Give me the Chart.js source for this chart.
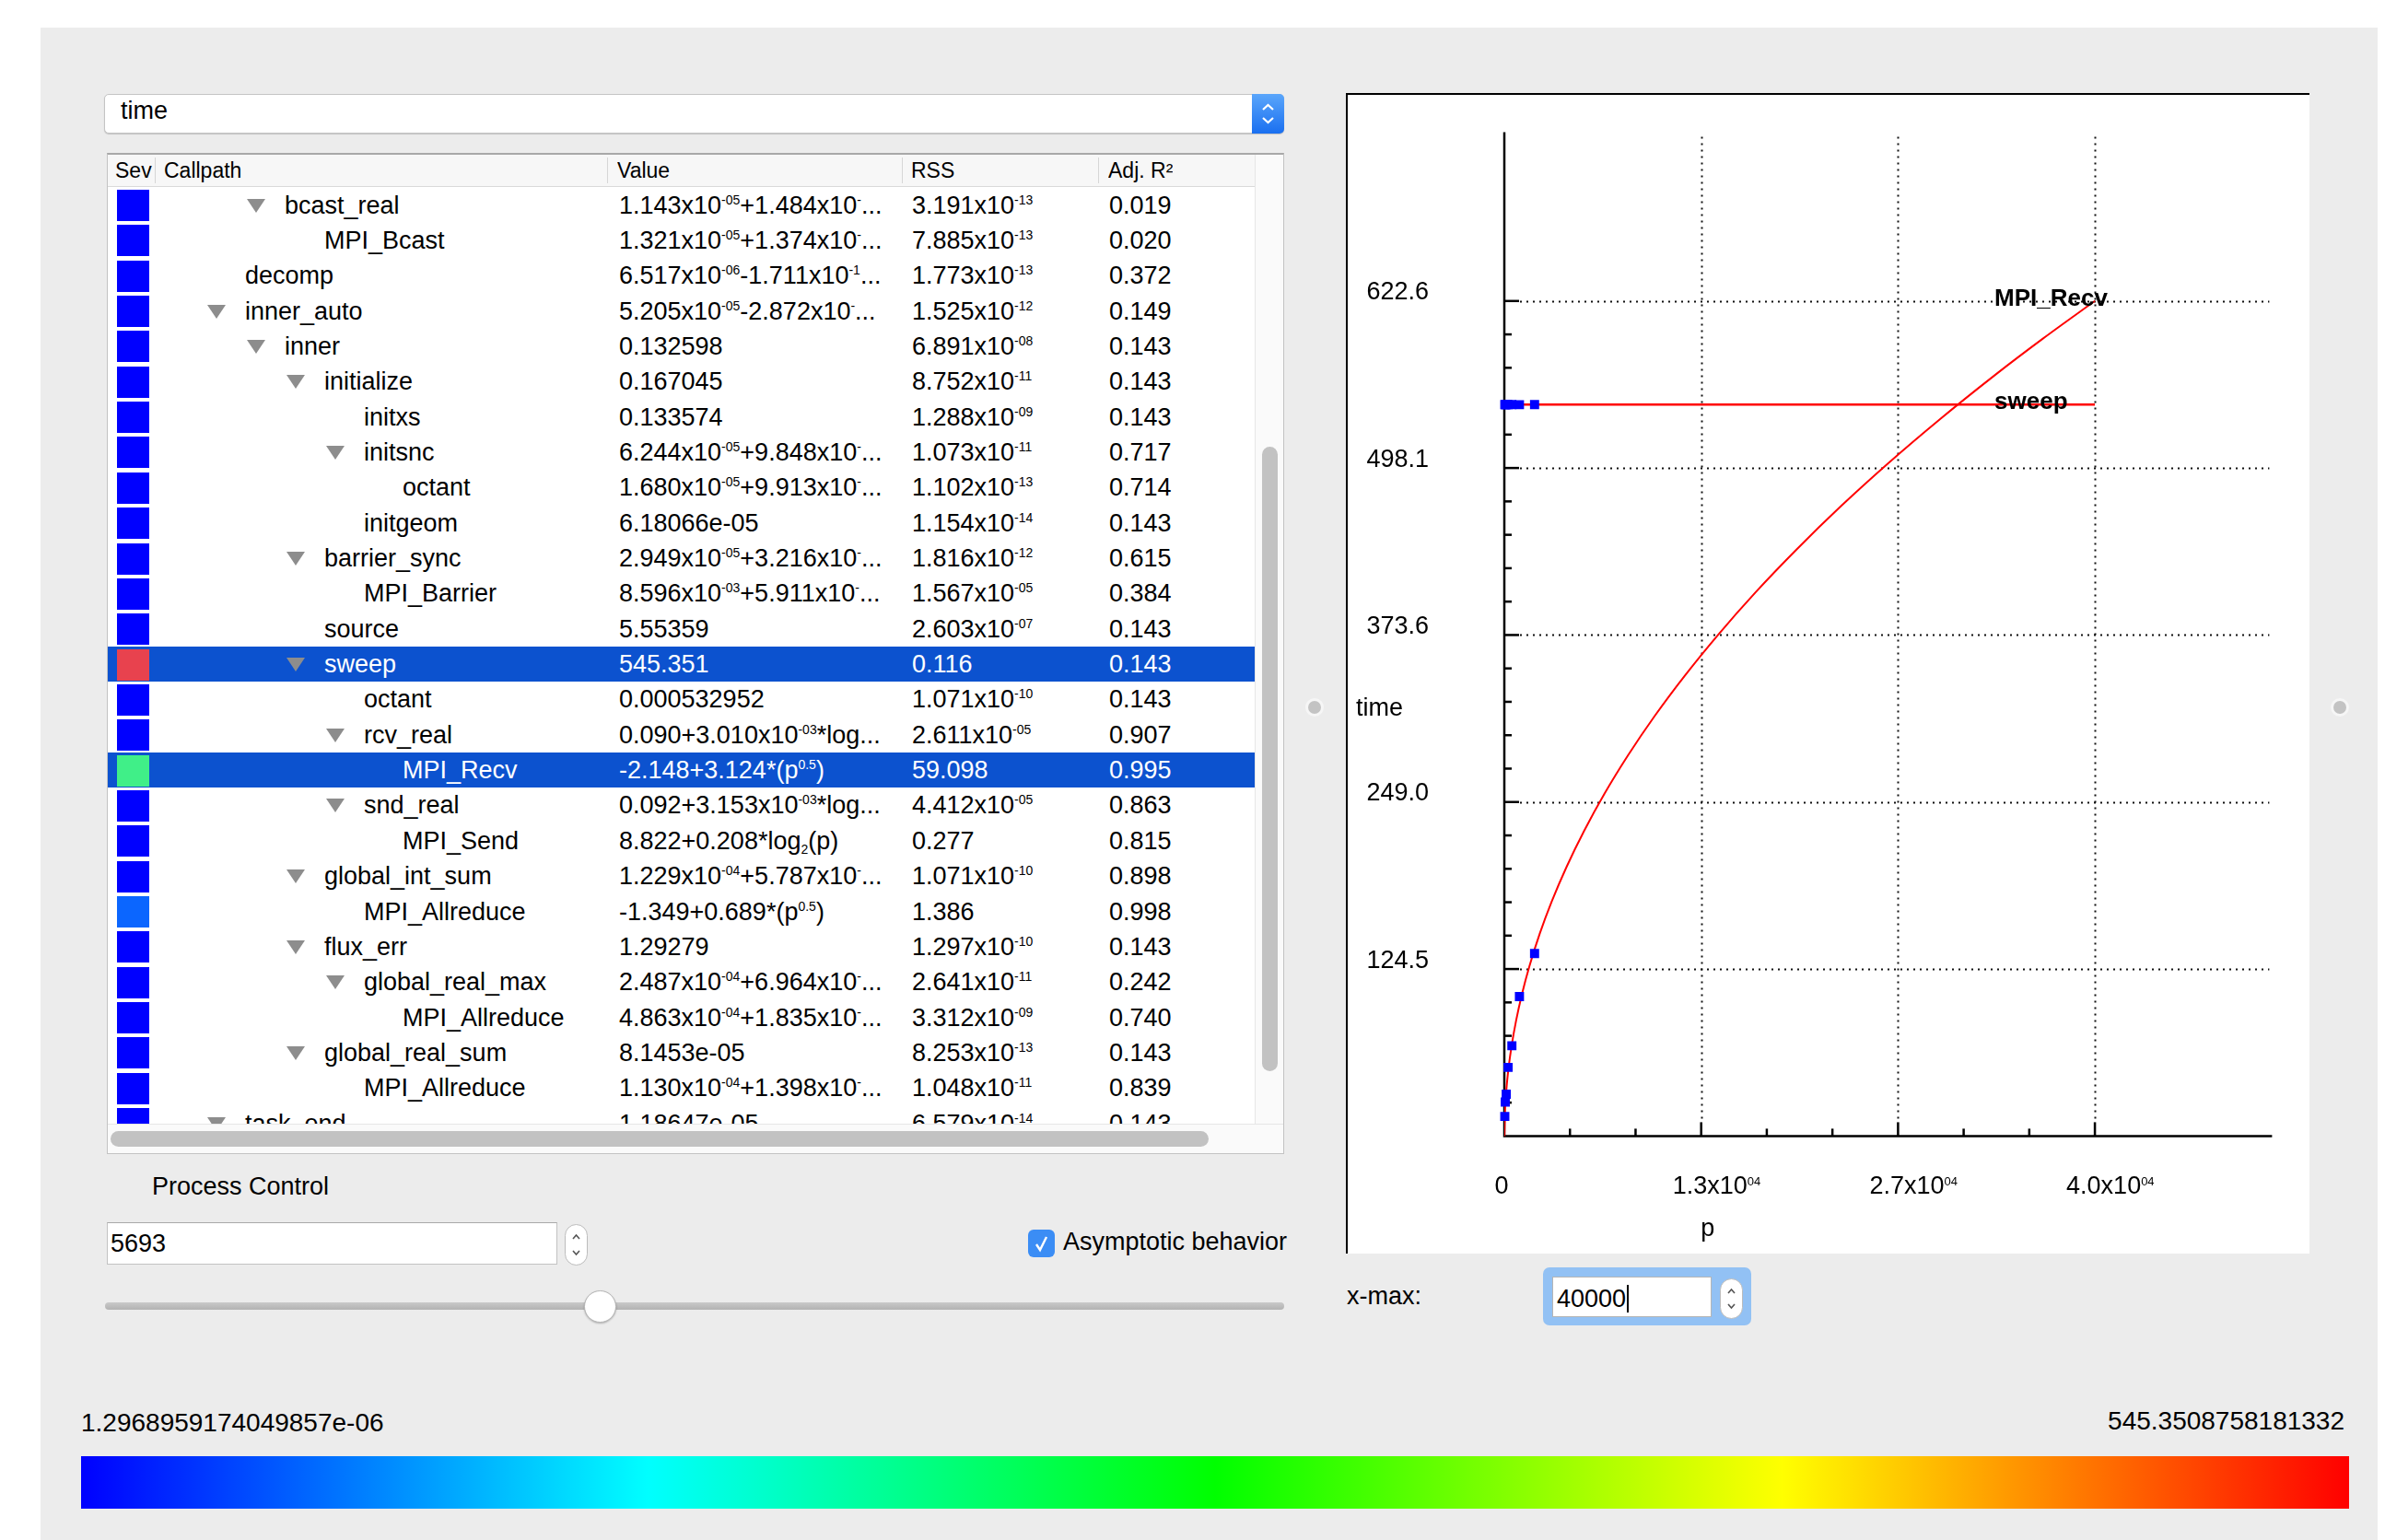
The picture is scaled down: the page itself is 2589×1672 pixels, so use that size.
<!DOCTYPE html>
<html>
<head>
<meta charset="utf-8">
<title>time – MPI_Recv / sweep</title>
<script src="https://cdn.jsdelivr.net/npm/chart.js@4.4.1/dist/chart.umd.min.js"></script>
<style>
    html, body { margin: 0; padding: 0; background: #fff; }
    body {
        width: 2589px; height: 1672px; position: relative; overflow: hidden;
        font-family: "Liberation Sans", Arial, Helvetica, sans-serif; color: #000;
    }
    .abs { position: absolute; }
    .win { left: 44px; top: 30px; width: 2537px; height: 1642px; background: #ececec; }
    .txt { font-size: 27px; white-space: nowrap; line-height: 1; }

    /* combo "time" */
    .combo { left: 113px; top: 102px; width: 1281px; height: 43px; background: #fff; border: 1px solid #c4c4c4;
             border-radius: 5px; box-shadow: 0 1px 1px rgba(0,0,0,.18); box-sizing: border-box; }
    .combo-btn { right: -1px; top: -1px; width: 35px; height: 43px; border-radius: 0 5px 5px 0;
                 background: linear-gradient(#5aa6fb, #1a6ff0); }

    /* tree table */
    .frame { left: 116px; top: 166px; width: 1278px; height: 1087px; background: #fff;
             border: 1px solid #c3c3c3; border-top: 2px solid #a8a8a8; box-sizing: border-box; }
    .hdr { left: 117px; top: 168px; width: 1245px; height: 35px; background: #f7f7f7; border-bottom: 1px solid #dadada; box-sizing: border-box; }
    .hcell { top: 0; height: 34px; line-height: 34px; font-size: 23px; white-space: nowrap; overflow: hidden; }
    .hsep { top: 3px; width: 1px; height: 28px; background: #d6d6d6; }
    .view { left: 117px; top: 203.5px; width: 1245px; height: 1016.5px; overflow: hidden; }
    .row { left: 0; width: 1245px; height: 38.35px; }
    .row.sel { background: #0c52cf; color: #fff; }
    .cell { top: 0; height: 38.35px; line-height: 38.35px; font-size: 27px; white-space: nowrap; }
    .sev { left: 10px; top: 2.5px; width: 35px; height: 34px; }
    .tri { width: 0; height: 0; border-left: 10px solid transparent; border-right: 10px solid transparent;
           border-top: 15px solid #8d8d8d; top: 12px; }
    .sp { font-size: 14px; vertical-align: 10px; line-height: 0; }
    .sb { font-size: 14px; vertical-align: -5px; line-height: 0; }
    .vtrack { left: 1362px; top: 168px; width: 31px; height: 1052px; background: #fafafa; border-left: 1px solid #e6e6e6; box-sizing: border-box; }
    .vthumb { left: 1370px; top: 485px; width: 17px; height: 678px; border-radius: 9px; background: #c2c2c2; }
    .htrack { left: 117px; top: 1220px; width: 1276px; height: 32px; background: #fafafa; border-top: 1px solid #e6e6e6; box-sizing: border-box; }
    .hthumb { left: 120px; top: 1228px; width: 1192px; height: 17px; border-radius: 9px; background: #c2c2c2; }

    /* process control */
    .spin { background: #fff; border: 1px solid #c2c2c2; border-top-color: #a9a9a9; box-sizing: border-box; }
    .step { background: #fff; border: 1px solid #bcbcbc; border-radius: 13px; box-sizing: border-box; }
    .check { left: 1116px; top: 1335px; width: 29px; height: 30px; border-radius: 6px; background: #3b8df5; }
    .slider { left: 114px; top: 1414px; width: 1280px; height: 8px; border-radius: 4px; background: linear-gradient(#c9c9c9, #b2b2b2); }
    .knob { left: 634px; top: 1401px; width: 35px; height: 35px; border-radius: 50%; background: #fff;
            border: 1px solid #b5b5b5; box-sizing: border-box; box-shadow: 0 1px 2px rgba(0,0,0,.25); }

    /* chart panel */
    .panel { left: 1461px; top: 101px; width: 1046px; height: 1260px; background: #fff;
             border-left: 2px solid #000; border-top: 2px solid #000; box-sizing: border-box; }
    #plot { position: absolute; left: 0; top: 0; }

    .ring { left: 1675px; top: 1376px; width: 226px; height: 63px; border-radius: 7px; background: #92c1f4; }
    .dot { width: 14px; height: 14px; border-radius: 50%; background: #c3c3c3; box-shadow: 0 0 0 3px #f6f6f6; }

    .bar { left: 88px; top: 1581px; width: 2462px; height: 57px;
           background: linear-gradient(to right, #0000ff 0%, #00ffff 25%, #00ff00 50%, #ffff00 75%, #ff0000 100%); }
</style>
</head>
<body>
<div class="abs win"></div>

<!-- metric combo -->
<div class="abs combo">
    <div class="abs txt" style="left:17px; top:4px;">time</div>
    <div class="abs combo-btn">
        <svg width="35" height="43" viewBox="0 0 35 43"><path d="M12 17 L17.5 12 L23 17 M12 26 L17.5 31 L23 26" stroke="#fff" stroke-width="2.2" fill="none"/></svg>
    </div>
</div>

<!-- call tree -->
<div class="abs frame"></div>
<div class="abs hdr">
    <div class="abs hcell" style="left:8px; width:43px;">Sev</div>
    <div class="abs hsep" style="left:51px;"></div>
    <div class="abs hcell" style="left:61px;">Callpath</div>
    <div class="abs hsep" style="left:542px;"></div>
    <div class="abs hcell" style="left:553px;">Value</div>
    <div class="abs hsep" style="left:862px;"></div>
    <div class="abs hcell" style="left:872px;">RSS</div>
    <div class="abs hsep" style="left:1075px;"></div>
    <div class="abs hcell" style="left:1086px;">Adj. R²</div>
</div>
<div class="abs view" id="treeView"></div>
<div class="abs vtrack"></div>
<div class="abs vthumb"></div>
<div class="abs htrack"></div>
<div class="abs hthumb"></div>

<!-- process control -->
<div class="abs txt" style="left:165px; top:1275px;">Process Control</div>
<div class="abs spin" style="left:116px; top:1327px; width:489px; height:46px;">
    <div class="abs txt" style="left:3px; top:9px;">5693</div>
</div>
<div class="abs step" style="left:613px; top:1329px; width:25px; height:45px;">
    <svg width="23" height="43" viewBox="0 0 23 43"><path d="M8 15 L11.5 11 L15 15 M8 28 L11.5 32 L15 28" stroke="#555" stroke-width="1.6" fill="none"/></svg>
</div>
<div class="abs check">
    <svg width="29" height="30" viewBox="0 0 29 30"><path d="M9 16 L13 22 L20 8" stroke="#fff" stroke-width="2.4" fill="none"/></svg>
</div>
<div class="abs txt" style="left:1154px; top:1335px;">Asymptotic behavior</div>
<div class="abs slider"></div>
<div class="abs knob"></div>

<!-- splitter handles -->
<div class="abs dot" style="left:1420px; top:761px;"></div>
<div class="abs dot" style="left:2533px; top:761px;"></div>

<!-- chart -->
<div class="abs panel">
    <canvas id="plot" width="1044" height="1258"></canvas>
</div>

<!-- x-max -->
<div class="abs txt" style="left:1462px; top:1394px;">x-max:</div>
<div class="abs ring">
    <div class="abs spin" style="left:10px; top:10px; width:173px; height:44px; border-color:#b5b5b5;">
        <div class="abs txt" style="left:4px; top:8px;">40000<span style="display:inline-block; width:2px; height:30px; background:#000; vertical-align:-6px; margin-left:1px;"></span></div>
    </div>
    <div class="abs step" style="left:192px; top:12px; width:25px; height:44px;">
        <svg width="23" height="42" viewBox="0 0 23 42"><path d="M8 15 L11.5 11 L15 15 M8 27 L11.5 31 L15 27" stroke="#555" stroke-width="1.6" fill="none"/></svg>
    </div>
</div>

<!-- colour scale -->
<div class="abs txt" style="left:88px; top:1531px; font-size:28px;">1.2968959174049857e-06</div>
<div class="abs txt" style="right:44px; top:1529px; font-size:28px;">545.3508758181332</div>
<div class="abs bar"></div>

<script>
// ── Call tree rows ─────────────────────────────────────────────────────────────
const BLUE = '#0000ff';
const treeNames  = ['bcast_real', 'MPI_Bcast', 'decomp', 'inner_auto', 'inner', 'initialize', 'initxs', 'initsnc',
                    'octant', 'initgeom', 'barrier_sync', 'MPI_Barrier', 'source', 'sweep', 'octant', 'rcv_real',
                    'MPI_Recv', 'snd_real', 'MPI_Send', 'global_int_sum', 'MPI_Allreduce', 'flux_err',
                    'global_real_max', 'MPI_Allreduce', 'global_real_sum', 'MPI_Allreduce', 'task_end'];
const treeLevels = [1, 2, 0, 0, 1, 2, 3, 3, 4, 3, 2, 3, 2, 2, 3, 3, 4, 3, 4, 2, 3, 2, 3, 4, 2, 3, 0];
const treeOpen   = [1, 0, 0, 1, 1, 1, 0, 1, 0, 0, 1, 0, 0, 1, 0, 1, 0, 1, 0, 1, 0, 1, 1, 0, 1, 0, 1];
const treeValues = [
    '1.143x10<span class="sp">-05</span>+1.484x10<span class="sp">-</span>...',
    '1.321x10<span class="sp">-05</span>+1.374x10<span class="sp">-</span>...',
    '6.517x10<span class="sp">-06</span>-1.711x10<span class="sp">-1</span>...',
    '5.205x10<span class="sp">-05</span>-2.872x10<span class="sp">-</span>...',
    '0.132598', '0.167045', '0.133574',
    '6.244x10<span class="sp">-05</span>+9.848x10<span class="sp">-</span>...',
    '1.680x10<span class="sp">-05</span>+9.913x10<span class="sp">-</span>...',
    '6.18066e-05',
    '2.949x10<span class="sp">-05</span>+3.216x10<span class="sp">-</span>...',
    '8.596x10<span class="sp">-03</span>+5.911x10<span class="sp">-</span>...',
    '5.55359', '545.351', '0.000532952',
    '0.090+3.010x10<span class="sp">-03</span>*log...',
    '-2.148+3.124*(p<span class="sp">0.5</span>)',
    '0.092+3.153x10<span class="sp">-03</span>*log...',
    '8.822+0.208*log<span class="sb">2</span>(p)',
    '1.229x10<span class="sp">-04</span>+5.787x10<span class="sp">-</span>...',
    '-1.349+0.689*(p<span class="sp">0.5</span>)',
    '1.29279',
    '2.487x10<span class="sp">-04</span>+6.964x10<span class="sp">-</span>...',
    '4.863x10<span class="sp">-04</span>+1.835x10<span class="sp">-</span>...',
    '8.1453e-05',
    '1.130x10<span class="sp">-04</span>+1.398x10<span class="sp">-</span>...',
    '1.18647e-05',
];
const treeRss = ['3.191x10<span class="sp">-13</span>', '7.885x10<span class="sp">-13</span>', '1.773x10<span class="sp">-13</span>',
                 '1.525x10<span class="sp">-12</span>', '6.891x10<span class="sp">-08</span>', '8.752x10<span class="sp">-11</span>',
                 '1.288x10<span class="sp">-09</span>', '1.073x10<span class="sp">-11</span>', '1.102x10<span class="sp">-13</span>',
                 '1.154x10<span class="sp">-14</span>', '1.816x10<span class="sp">-12</span>', '1.567x10<span class="sp">-05</span>',
                 '2.603x10<span class="sp">-07</span>', '0.116', '1.071x10<span class="sp">-10</span>', '2.611x10<span class="sp">-05</span>',
                 '59.098', '4.412x10<span class="sp">-05</span>', '0.277', '1.071x10<span class="sp">-10</span>', '1.386',
                 '1.297x10<span class="sp">-10</span>', '2.641x10<span class="sp">-11</span>', '3.312x10<span class="sp">-09</span>',
                 '8.253x10<span class="sp">-13</span>', '1.048x10<span class="sp">-11</span>', '6.579x10<span class="sp">-14</span>'];
const treeAdjR2 = ['0.019', '0.020', '0.372', '0.149', '0.143', '0.143', '0.143', '0.717', '0.714', '0.143', '0.615',
                   '0.384', '0.143', '0.143', '0.143', '0.907', '0.995', '0.863', '0.815', '0.898', '0.998', '0.143',
                   '0.242', '0.740', '0.143', '0.839', '0.143'];
const treeSev = {13: '#e8424e', 16: '#40ef88', 20: '#0b66ff'};
const treeSelected = [13, 16];

// ── Chart data ─────────────────────────────────────────────────────────────────
const xMax = 40000;                      // x-max spin box
const xAxisMax = 52000;
const yAxisMax = 747.1;

const xTickValues = [0, 13333.3, 26666.7, 40000];
const xTickBase   = ['0', '1.3x10', '2.7x10', '4.0x10'];
const xTickExp    = ['', '04', '04', '04'];
const yTickValues = [124.52, 249.04, 373.56, 498.08, 622.6];
const yTickLabels = ['124.5', '249.0', '373.6', '498.1', '622.6'];

// model curves
const recvP    = [0, 50, 150, 300, 500, 800, 1200, 1700, 2400, 3200, 4200, 5400, 6800, 8400, 10200, 12200,
                  14500, 17000, 19800, 22800, 26000, 29500, 33200, 36500, 40000];
const recvTime = [-2.1, 19.9, 36.1, 52.0, 67.7, 86.2, 106.1, 126.7, 150.9, 174.6, 200.3, 227.4, 255.5, 284.2,
                  313.4, 342.9, 374.0, 405.2, 437.4, 469.6, 501.6, 534.4, 567.1, 594.7, 622.6];
const sweepP    = [0, 40000];
const sweepTime = [545.35, 545.35];

// measurements
const measP        = [32, 64, 128, 256, 512, 1024, 2048];
const recvMeasured = [14.6, 25.3, 31.2, 51.2, 67.3, 104.0, 136.1];
const sweepMeasured = [545.4, 545.3, 545.4, 545.3, 545.4, 545.3, 545.4];

const curveNames = ['MPI_Recv', 'sweep'];

// ── Build tree ─────────────────────────────────────────────────────────────────
function buildTree() {
    const view = document.getElementById('treeView');
    const rowH = 38.35;
    const levelX = [149, 192, 235, 278, 320];   // text left per depth (relative to view)
    let html = '';
    treeNames.forEach((name, i) => {
        const sel = treeSelected.includes(i);
        const lx = levelX[treeLevels[i]];
        html += `<div class="abs row${sel ? ' sel' : ''}" style="top:${(i * rowH).toFixed(2)}px;">
            <div class="abs sev" style="background:${treeSev[i] || BLUE};"></div>
            ${treeOpen[i] ? `<div class="abs tri" style="left:${lx - 41}px;"></div>` : ''}
            <div class="abs cell" style="left:${lx}px;">${name}</div>
            <div class="abs cell" style="left:555px;">${treeValues[i]}</div>
            <div class="abs cell" style="left:873px;">${treeRss[i]}</div>
            <div class="abs cell" style="left:1087px;">${treeAdjR2[i]}</div>
        </div>`;
    });
    view.innerHTML = html;
}

// ── Axes, grid and labels drawn on the library's scales ────────────────────────
const FONT = '"Liberation Sans", Arial, Helvetica, sans-serif';

const qwtAxes = {
    id: 'qwtAxes',
    beforeDatasetsDraw(chart) {
        const { ctx, scales: { x, y } } = chart;
        const x0 = x.getPixelForValue(0), y0 = y.getPixelForValue(0);
        const xEnd = x.getPixelForValue(xAxisMax), yTop = y.getPixelForValue(yAxisMax);
        ctx.save();

        // dotted grid
        ctx.strokeStyle = '#111';
        ctx.lineWidth = 2;
        ctx.setLineDash([2, 5]);
        xTickValues.slice(1).forEach(v => {
            const px = Math.round(x.getPixelForValue(v)) + 0.5;
            ctx.beginPath(); ctx.moveTo(px, yTop + 3); ctx.lineTo(px, y0 - 16); ctx.stroke();
        });
        yTickValues.forEach(v => {
            const py = Math.round(y.getPixelForValue(v)) + 0.5;
            ctx.beginPath(); ctx.moveTo(x0 + 17, py); ctx.lineTo(xEnd - 3, py); ctx.stroke();
        });
        ctx.setLineDash([]);

        // axis lines
        ctx.strokeStyle = '#000';
        ctx.lineWidth = 2.5;
        ctx.beginPath(); ctx.moveTo(x0, yTop - 2); ctx.lineTo(x0, y0); ctx.lineTo(xEnd, y0); ctx.stroke();

        // ticks (inside the plot)
        const yStep = yTickValues[0] / 5;
        for (let k = 1; k <= 25; k++) {
            const py = y.getPixelForValue(k * yStep);
            const len = k % 5 === 0 ? 16 : 8;
            ctx.beginPath(); ctx.moveTo(x0, py); ctx.lineTo(x0 + len, py); ctx.stroke();
        }
        const xStep = xTickValues[1] / 3;
        for (let k = 1; k <= 9; k++) {
            const px = x.getPixelForValue(k * xStep);
            const len = k % 3 === 0 ? 15 : 8;
            ctx.beginPath(); ctx.moveTo(px, y0); ctx.lineTo(px, y0 - len); ctx.stroke();
        }

        // tick labels
        ctx.fillStyle = '#000';
        ctx.font = `27px ${FONT}`;
        ctx.textBaseline = 'middle';
        ctx.textAlign = 'right';
        yTickValues.forEach((v, i) => ctx.fillText(yTickLabels[i], x0 - 82, y.getPixelForValue(v) - 9));

        const ly = y0 + 55;
        xTickValues.forEach((v, i) => {
            const px = x.getPixelForValue(v);
            ctx.font = `27px ${FONT}`;
            if (!xTickExp[i]) {
                ctx.textAlign = 'center';
                ctx.fillText(xTickBase[i], px - 3, ly);
                return;
            }
            ctx.textAlign = 'left';
            const left = px - 31;
            ctx.fillText(xTickBase[i], left, ly);
            const w = ctx.measureText(xTickBase[i]).width;
            ctx.font = `13px ${FONT}`;
            ctx.textBaseline = 'top';
            ctx.fillText(xTickExp[i], left + w, ly - 11);
            ctx.textBaseline = 'middle';
        });

        // axis titles
        ctx.font = `27px ${FONT}`;
        ctx.textAlign = 'left';
        ctx.fillText('time', 9, 667);
        ctx.textAlign = 'center';
        ctx.fillText('p', x.getPixelForValue(xTickValues[1]) + 7, y0 + 101);
        ctx.restore();
    },
    afterDatasetsDraw(chart) {
        const { ctx, scales: { x, y } } = chart;
        const lastVals = [recvTime[recvTime.length - 1], sweepTime[sweepTime.length - 1]];
        ctx.save();
        ctx.fillStyle = '#000';
        ctx.font = `bold 26px ${FONT}`;
        ctx.textAlign = 'left';
        ctx.textBaseline = 'middle';
        curveNames.forEach((n, i) => ctx.fillText(n, x.getPixelForValue(xMax) - 109, y.getPixelForValue(lastVals[i]) - 2));
        ctx.restore();
    },
};

function toXY(xs, ys) {
    return xs.map((v, i) => ({ x: v, y: ys[i] }));
}

function drawPlot() {
    new Chart(document.getElementById('plot'), {
        type: 'scatter',
        data: {
            datasets: [
                { label: 'MPI_Recv measured', data: toXY(measP, recvMeasured), pointStyle: 'rect', pointRadius: 7,
                  backgroundColor: '#0000ff', borderWidth: 0, clip: 12 },
                { label: 'sweep measured', data: toXY(measP, sweepMeasured), pointStyle: 'rect', pointRadius: 7,
                  backgroundColor: '#0000ff', borderWidth: 0, clip: 12 },
                { label: 'MPI_Recv', data: toXY(recvP, recvTime), showLine: true, pointRadius: 0,
                  borderColor: '#ff0000', borderWidth: 2, cubicInterpolationMode: 'monotone' },
                { label: 'sweep', data: toXY(sweepP, sweepTime), showLine: true, pointRadius: 0,
                  borderColor: '#ff0000', borderWidth: 2.4 },
            ],
        },
        options: {
            responsive: false,
            animation: false,
            events: [],
            layout: { padding: { left: 170, right: 40.6, top: 42.5, bottom: 127.6 } },
            plugins: { legend: { display: false }, tooltip: { enabled: false } },
            scales: {
                x: { type: 'linear', min: 0, max: xAxisMax, display: false },
                y: { type: 'linear', min: 0, max: yAxisMax, display: false },
            },
        },
        plugins: [qwtAxes],
    });
}

buildTree();
drawPlot();
</script>
</body>
</html>
